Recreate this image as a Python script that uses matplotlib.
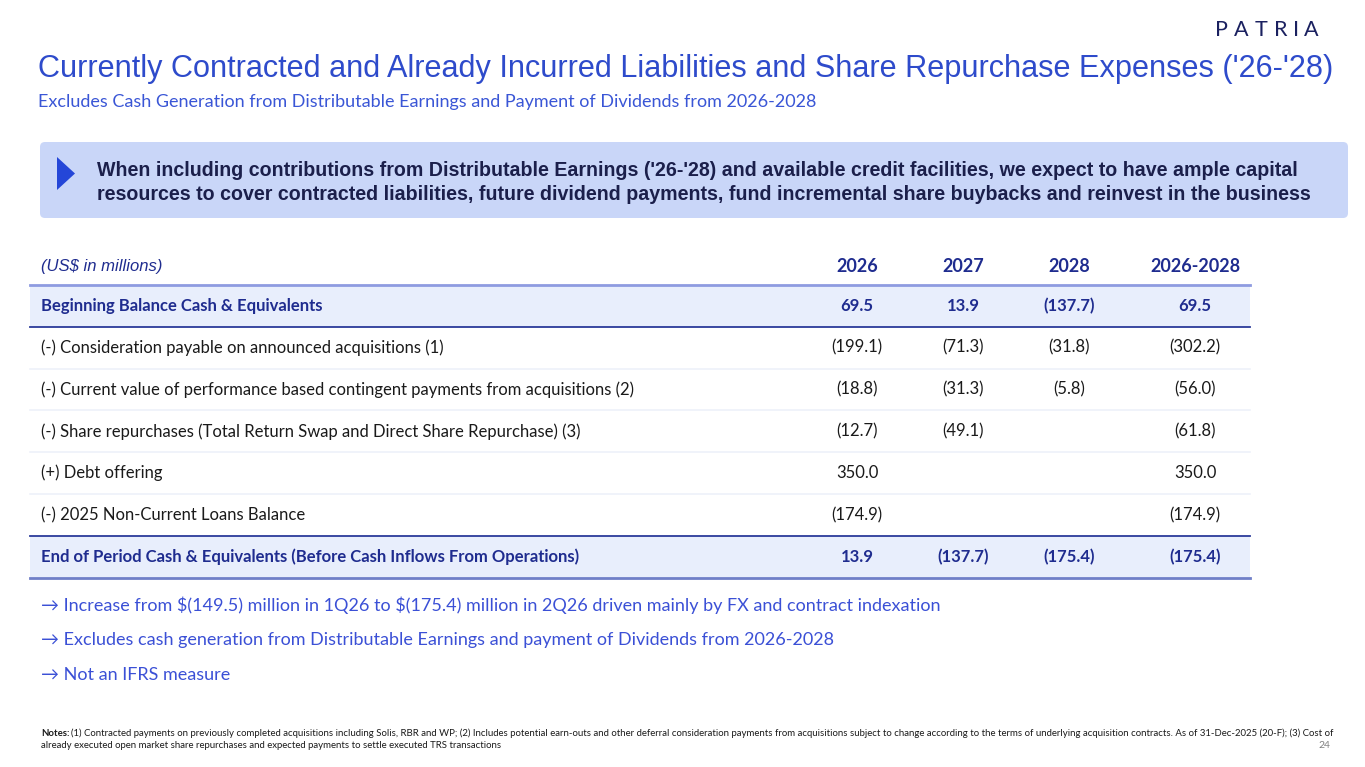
import matplotlib
matplotlib.use('Agg')
import matplotlib.pyplot as plt
from matplotlib.patches import FancyBboxPatch, Polygon, Rectangle

# slide texts
title = "Currently Contracted and Already Incurred Liabilities and Share Repurchase Expenses ('26-'28)"
subtitle = "Excludes Cash Generation from Distributable Earnings and Payment of Dividends from 2026-2028"
banner_lines = [
    "When including contributions from Distributable Earnings ('26-'28) and available credit facilities, we expect to have ample capital",
    "resources to cover contracted liabilities, future dividend payments, fund incremental share buybacks and reinvest in the business",
]

# table data
unit_label = "(US$ in millions)"
col_headers = ['2026', '2027', '2028', '2026-2028']
row_labels = [
    "Beginning Balance Cash & Equivalents",
    "(-) Consideration payable on announced acquisitions (1)",
    "(-) Current value of performance based contingent payments from acquisitions (2)",
    "(-) Share repurchases (Total Return Swap and Direct Share Repurchase) (3)",
    "(+) Debt offering",
    "(-) 2025 Non-Current Loans Balance",
    "End of Period Cash & Equivalents (Before Cash Inflows From Operations)",
]
vals_2026 = [69.5, -199.1, -18.8, -12.7, 350.0, -174.9, 13.9]
vals_2027 = [13.9, -71.3, -31.3, -49.1, None, None, -137.7]
vals_2028 = [-137.7, -31.8, -5.8, None, None, None, -175.4]
vals_total = [69.5, -302.2, -56.0, -61.8, 350.0, -174.9, -175.4]
bold_rows = [0, 6]

bullets = [
    "\u2192 Increase from \\$(149.5) million in 1Q26 to \\$(175.4) million in 2Q26 driven mainly by FX and contract indexation",
    "\u2192 Excludes cash generation from Distributable Earnings and payment of Dividends from 2026-2028",
    "\u2192 Not an IFRS measure",
]
notes_1 = ("(1) Contracted payments on previously completed acquisitions including Solis, RBR and WP; (2) Includes potential earn-outs and other "
           "deferral consideration payments from acquisitions subject to change according to the terms of underlying acquisition contracts. As of 31-Dec-2025 (20-F); (3) Cost of")
notes_2 = "already executed open market share repurchases and expected payments to settle executed TRS transactions"
page_no = "24"


def fmt(v):
    if v is None:
        return ''
    if v < 0:
        return f'({abs(v):.1f})'
    return f'{v:.1f}'


BLUE = '#2E4BCB'
NAVY = '#1F2C8F'
DARK = '#1B1F4B'
BODY = '#1A1A1A'
SANS = 'Liberation Sans'
CAL = 'Lato'

fig = plt.figure(figsize=(13.65, 7.67), dpi=100)
ax = fig.add_axes([0, 0, 1, 1])
ax.set_xlim(0, 1365)
ax.set_ylim(767, 0)
ax.axis('off')

# logo
for ch, x in zip('PATRIA', [1221, 1241, 1261, 1281, 1296, 1311]):
    ax.text(x, 30, ch, fontsize=15.5, family=CAL, color='#1B2160', ha='center', va='center')

ax.text(38, 69, title, fontsize=22.1, family=SANS, color=BLUE, va='center')
ax.text(38, 102, subtitle, fontsize=13, family=CAL, color='#3A56D6', va='center')

# banner
ax.add_patch(FancyBboxPatch((40, 142), 1308, 76, boxstyle='round,pad=0,rounding_size=5',
                            fc='#C9D6F8', ec='none'))
ax.add_patch(Polygon([[57, 157], [57, 190], [75, 173.5]], closed=True, fc='#2446D8', ec='none'))
for i, line in enumerate(banner_lines):
    ax.text(97, 171 + 23 * i, line, fontsize=14.15, family=SANS, weight='bold', color=DARK, va='center')

# table
x0, x1 = 30, 1250
col_x = [857, 963, 1069, 1195]
head_y = 266
row_top = 285
row_h = 41.8

ax.text(41, head_y, unit_label, fontsize=12, family=SANS, style='italic', color=NAVY, va='center')
for cx, h in zip(col_x, col_headers):
    ax.text(cx, head_y, h, fontsize=13, family=CAL, weight='bold', color=NAVY, ha='center', va='center')

cols = [vals_2026, vals_2027, vals_2028, vals_total]
for i, label in enumerate(row_labels):
    top = row_top + i * row_h
    yc = top + row_h / 2
    bold = i in bold_rows
    if bold:
        ax.add_patch(Rectangle((x0, top), x1 - x0, row_h, fc='#E8EEFC', ec='none'))
    elif i < len(row_labels) - 2:
        ax.plot([x0, x1], [top + row_h, top + row_h], color='#EEF1FA', lw=1.2)
    color = NAVY if bold else BODY
    weight = 'bold' if bold else 'normal'
    ax.text(41, yc, label, fontsize=12, family=CAL, weight=weight, color=color, va='center')
    for cx, col in zip(col_x, cols):
        ax.text(cx, yc, fmt(col[i]), fontsize=12, family=CAL, weight=weight, color=color,
                ha='center', va='center')

ax.plot([x0, x1], [row_top, row_top], color='#8E9BE0', lw=2)
ax.plot([x0, x1], [row_top + row_h, row_top + row_h], color='#2B3A9A', lw=1.3)
ax.plot([x0, x1], [row_top + 6 * row_h, row_top + 6 * row_h], color='#2B3A9A', lw=1.3)
ax.plot([x0, x1], [row_top + 7 * row_h, row_top + 7 * row_h], color='#6F7FC8', lw=2)

for i, b in enumerate(bullets):
    ax.text(41, 605 + 35 * i, b, fontsize=13, family=CAL, color='#3B50D6', va='center')

ax.text(41, 733, 'Notes:', fontsize=6.9, family=CAL, weight='bold', color=BODY, va='center')
ax.text(71, 733, notes_1, fontsize=6.9, family=CAL, color=BODY, va='center')
ax.text(41, 745, notes_2, fontsize=6.9, family=CAL, color=BODY, va='center')
ax.text(1330, 746, page_no, fontsize=7.5, family=CAL, color='#808080', ha='right', va='center')

fig.savefig('out.png', dpi=100)
